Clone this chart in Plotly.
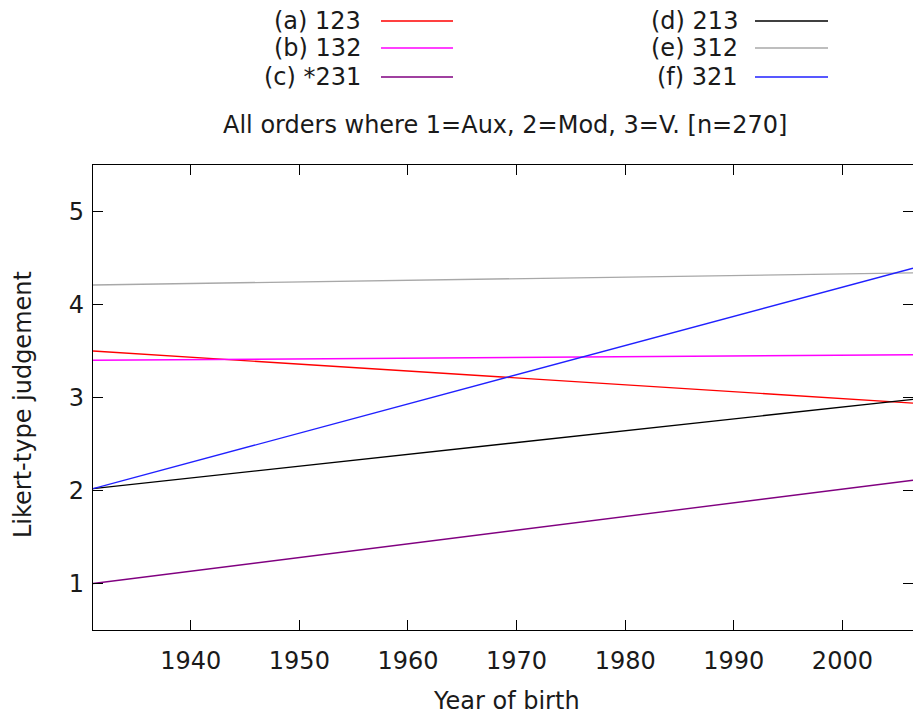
import plotly.graph_objects as go

# ---- data ----
years = [1931, 2006.5]
series_names = ["(a) 123", "(b) 132", "(c) *231", "(d) 213", "(e) 312", "(f) 321"]
a_123 = [3.50, 2.94]
b_132 = [3.40, 3.46]
c_231 = [1.00, 2.11]
d_213 = [2.02, 2.98]
e_312 = [4.21, 4.34]
f_321 = [2.02, 4.39]
series_values = [a_123, b_132, c_231, d_213, e_312, f_321]
colors = ["#ff0000", "#ff00ff", "#800080", "#000000", "#a8a8a8", "#2020ff"]
x_ticks = [1940, 1950, 1960, 1970, 1980, 1990, 2000]
y_ticks = [1, 2, 3, 4, 5]

W, H = 913, 718
L, R, T, B = 93, 0, 165, 88
PW, PH = W - L - R, H - T - B
FONT = "DejaVu Sans"
TXT = "#1a1a1a"
FS = 24


def px(x):
    return (x - L) / PW


def py(y):
    return (H - B - y) / PH


fig = go.Figure()
for name, vals, col in zip(series_names, series_values, colors):
    fig.add_trace(go.Scatter(x=years, y=vals, mode="lines", name=name,
                             line=dict(color=col, width=1.4), showlegend=False))

annotations = []
shapes = []
# legend, gnuplot-style: text then sample line, two columns
rows_y = [21, 48, 77]
cols = [(363, 381, 453), (740, 755, 828)]
for i, (name, col) in enumerate(zip(series_names, colors)):
    c = cols[i // 3]
    r = rows_y[i % 3]
    annotations.append(dict(text=name, x=px(c[0]), y=py(r), xref="paper", yref="paper",
                            xanchor="right", yanchor="middle", showarrow=False,
                            font=dict(family=FONT, size=FS, color=TXT)))
    shapes.append(dict(type="line", xref="paper", yref="paper", x0=px(c[1]), x1=px(c[2]),
                       y0=py(r), y1=py(r), line=dict(color=col, width=1.4)))

annotations.append(dict(text="All orders where 1=Aux, 2=Mod, 3=V. [n=270]", x=px(505), y=py(125),
                        xref="paper", yref="paper", xanchor="center", yanchor="middle",
                        showarrow=False, font=dict(family=FONT, size=FS, color=TXT)))
annotations.append(dict(text="Year of birth", x=px(506), y=py(701), xref="paper", yref="paper",
                        xanchor="center", yanchor="middle", showarrow=False,
                        font=dict(family=FONT, size=FS, color=TXT)))
annotations.append(dict(text="Likert-type judgement", x=px(23), y=py(405), xref="paper", yref="paper",
                        xanchor="center", yanchor="middle", showarrow=False, textangle=-90,
                        font=dict(family=FONT, size=FS, color=TXT)))

axis_common = dict(showgrid=False, zeroline=False, showline=True, linecolor="#000000", linewidth=1.3,
                   mirror="ticks", ticks="inside", ticklen=10, tickwidth=1.3, tickcolor="#000000",
                   tickfont=dict(family=FONT, size=FS, color=TXT))

fig.update_layout(
    width=W, height=H, margin=dict(l=L, r=R, t=T, b=B, pad=0),
    paper_bgcolor="white", plot_bgcolor="white",
    xaxis=dict(range=[years[0], years[1]], tickvals=x_ticks, ticklabelstandoff=9, **axis_common),
    yaxis=dict(range=[0.5, 5.5], tickvals=y_ticks, ticklabelstandoff=3, **axis_common),
    annotations=annotations, shapes=shapes,
)
fig.write_html("out.html", config={"displayModeBar": False},
               post_script="document.body.style.margin='0px';document.body.style.overflow='hidden';")
